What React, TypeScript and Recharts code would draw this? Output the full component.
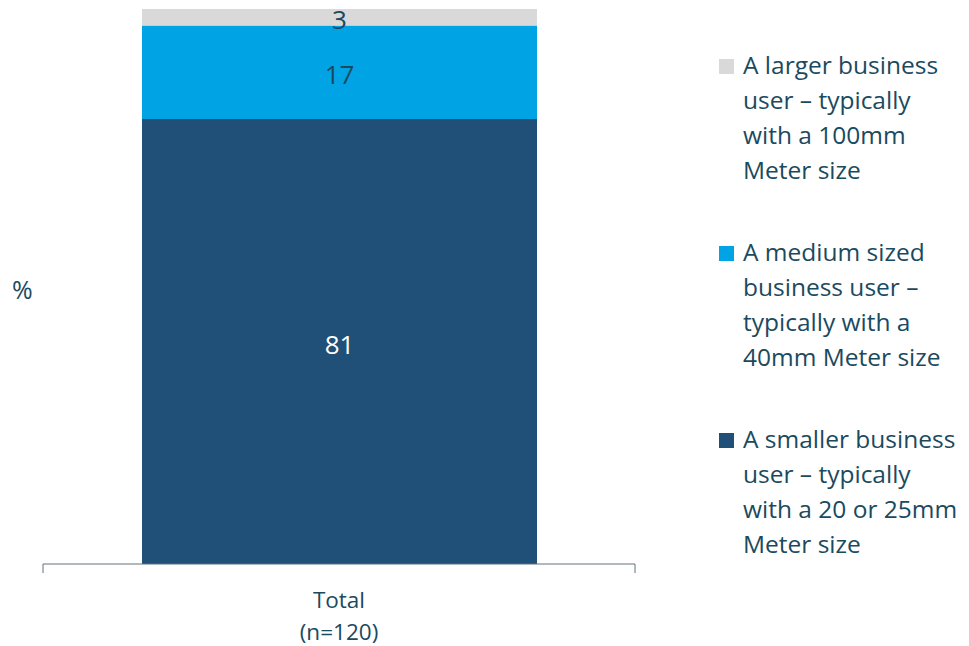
import { BarChart, Bar, XAxis, YAxis, LabelList } from "recharts";

const categories = ["Total|(n=120)"];
const smaller = [81];
const medium = [17];
const larger = [3];

const SERIES = [
  { key: "smaller", name: "A smaller business user – typically with a 20 or 25mm Meter size", color: "#204f78", label: "#ffffff",
    lines: ["A smaller business", "user – typically", "with a 20 or 25mm", "Meter size"] },
  { key: "medium", name: "A medium sized business user – typically with a 40mm Meter size", color: "#00a3e3", label: "#1b4a5e",
    lines: ["A medium sized", "business user –", "typically with a", "40mm Meter size"] },
  { key: "larger", name: "A larger business user – typically with a 100mm Meter size", color: "#d9d9d9", label: "#1b4a5e",
    lines: ["A larger business", "user – typically", "with a 100mm", "Meter size"] },
];

const TEXT = "#1b4a5e";
const AXIS = "#5f737d";
const FONT = "'Open Sans', 'Noto Sans', sans-serif";

const data = categories.map((c, i) => ({
  name: c,
  smaller: smaller[i],
  medium: medium[i],
  larger: larger[i],
}));

function CatTick(props: any) {
  const { x, y, payload } = props;
  const parts = String(payload.value).split("|");
  const half = payload.offset || 296;
  const axisY = y - 8;
  return (
    <g>
      <line x1={x - half} y1={axisY} x2={x - half} y2={axisY + 9} stroke={AXIS} />
      <line x1={x + half} y1={axisY} x2={x + half} y2={axisY + 9} stroke={AXIS} />
      {parts.map((p, i) => (
        <text key={i} x={x} y={y + 36 + i * 32} textAnchor="middle" fill={TEXT} fontSize={22.5} fontFamily={FONT}>
          {p}
        </text>
      ))}
    </g>
  );
}

export default function App() {
  const legendItems = [...SERIES].reverse();
  return (
    <div style={{ position: "fixed", left: 0, top: 0, width: 969, height: 646, background: "#fff", fontFamily: FONT }}>
      <div style={{ position: "absolute", left: 12, top: 272, fontSize: 25, color: TEXT }}>%</div>
      <div style={{ position: "absolute", left: 0, top: 0 }}>
        <BarChart width={680} height={646} data={data} margin={{ top: 9, right: 45, bottom: 0, left: 43 }}>
          <XAxis
            dataKey="name"
            axisLine={{ stroke: AXIS }}
            tickLine={false}
            tick={<CatTick />}
            height={82}
            interval={0}
          />
          <YAxis hide domain={[0, 101]} />
          {SERIES.map((s) => (
            <Bar key={s.key} dataKey={s.key} name={s.name} stackId="a" fill={s.color} barSize={395} isAnimationActive={false}>
              <LabelList dataKey={s.key} position="center" dy={3} fill={s.label} fontSize={26} fontFamily={FONT} />
            </Bar>
          ))}
        </BarChart>
      </div>
      <div style={{ position: "absolute", left: 719, top: 47 }}>
        {legendItems.map((s, i) => (
          <div key={s.key} style={{ position: "relative", marginBottom: i < 2 ? 47 : 0 }}>
            <div style={{ position: "absolute", left: 0, top: 12, width: 15, height: 15, background: s.color }} />
            <div style={{ marginLeft: 24, fontSize: 24.5, lineHeight: "35px", color: TEXT, whiteSpace: "nowrap" }}>
              {s.lines.map((l) => (
                <div key={l}>{l}</div>
              ))}
            </div>
          </div>
        ))}
      </div>
    </div>
  );
}
